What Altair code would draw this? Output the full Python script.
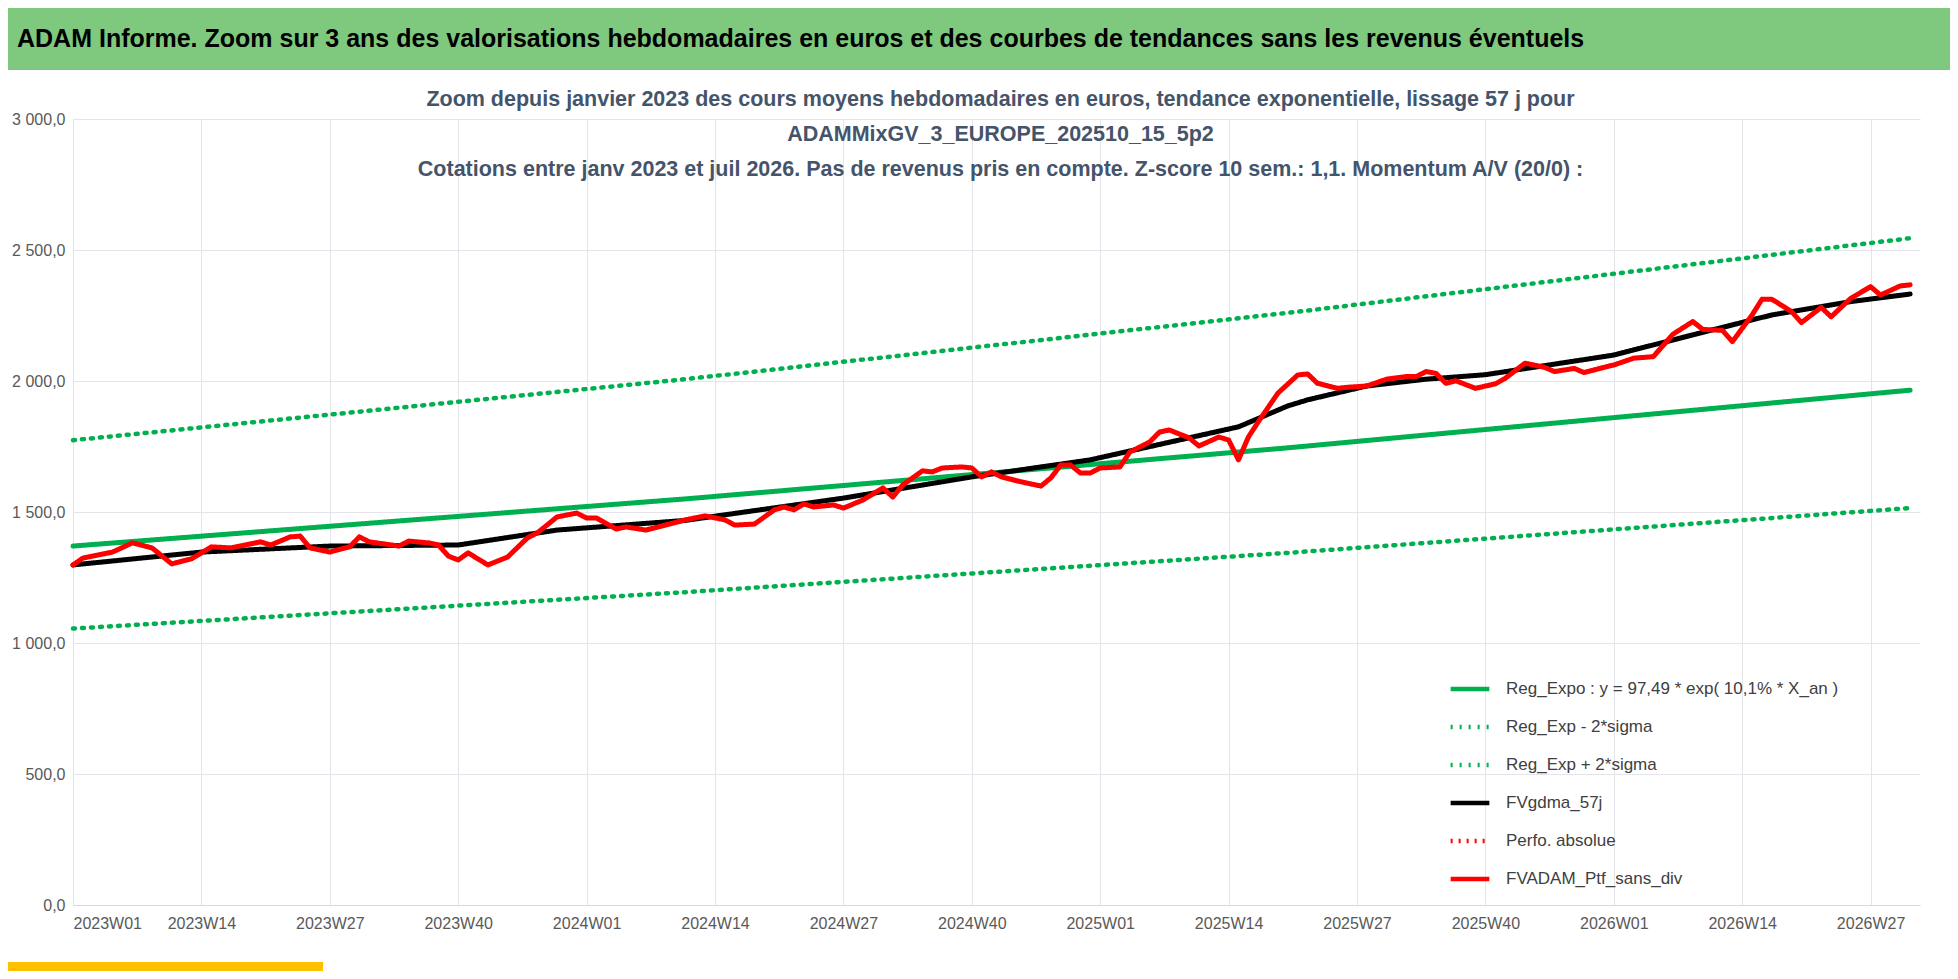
import altair as alt
import pandas as pd

# semaines (index depuis 2023W01) et valeurs
red_w = [0, 1, 4, 6, 8, 10, 12, 14, 16, 19, 20, 22, 23, 24, 26, 28, 29, 30, 33, 34, 36, 37, 38, 39, 40, 42, 44, 46, 47,
         49, 51, 52, 53, 55, 56, 58, 60, 62, 64, 66, 67, 69, 71, 72, 73, 74, 75, 77, 78, 80, 82, 83, 84, 86, 87, 88, 90,
         91, 92, 93, 94, 96, 98, 99, 100, 101, 102, 103, 104, 106, 107, 109, 110, 111, 113, 114, 116, 117, 118, 119, 120,
         122, 124, 125, 126, 128, 129, 131, 133, 135, 136, 137, 138, 139, 140, 142, 144, 145, 147, 149, 150, 152, 153,
         155, 156, 158, 160, 162, 164, 165, 167, 168, 170, 171, 172, 174, 175, 177, 178, 180, 182, 183, 185, 186]
red_v = [1298, 1324, 1347, 1382, 1363, 1302, 1321, 1367, 1363, 1386, 1374, 1405, 1408, 1363, 1347, 1367, 1405, 1386,
         1370, 1389, 1382, 1374, 1332, 1317, 1344, 1298, 1328, 1401, 1420, 1481, 1496, 1477, 1477, 1435, 1443, 1431,
         1450, 1470, 1485, 1470, 1450, 1454, 1508, 1519, 1508, 1531, 1519, 1527, 1515, 1546, 1592, 1557, 1603, 1657,
         1653, 1668, 1672, 1668, 1634, 1653, 1634, 1615, 1599, 1630, 1679, 1679, 1649, 1649, 1668, 1672, 1729, 1767,
         1805, 1813, 1783, 1752, 1786, 1775, 1699, 1786, 1844, 1954, 2023, 2027, 1991, 1972, 1976, 1981, 2007, 2017,
         2017, 2036, 2029, 1991, 2001, 1972, 1989, 2010, 2068, 2052, 2036, 2048, 2032, 2052, 2061, 2087, 2093, 2179,
         2227, 2197, 2193, 2150, 2252, 2312, 2312, 2265, 2223, 2281, 2245, 2316, 2360, 2328, 2363, 2367]

black_w = [0, 13, 26, 39, 49, 62, 78, 91, 103, 118, 123, 125, 131, 137, 143, 156, 164, 172, 180, 186]
black_v = [1298, 1347, 1370, 1374, 1431, 1468, 1553, 1634, 1699, 1825, 1905, 1928, 1981, 2007, 2024, 2099, 2176,
           2252, 2303, 2332]

trend_w = [0, 62, 123, 186]
reg_v = [1370, 1550, 1745, 1965]
upper_v = [1774, 2007, 2260, 2545]
lower_v = [1055, 1194, 1344, 1515]

tick_labels = ['2023W01', '2023W14', '2023W27', '2023W40', '2024W01', '2024W14', '2024W27', '2024W40',
               '2025W01', '2025W14', '2025W27', '2025W40', '2026W01', '2026W14', '2026W27']

series = ['Reg_Expo : y = 97,49 * exp( 10,1% *  X_an )', 'Reg_Exp - 2*sigma', 'Reg_Exp + 2*sigma',
          'FVgdma_57j', 'Perfo. absolue', 'FVADAM_Ptf_sans_div']
colors = ['#00b050', '#00b050', '#00b050', '#000000', '#ff0000', '#ff0000']
dashes = [[1, 0], [2, 7], [2, 7], [1, 0], [2, 6], [1, 0]]


def frame(w, v, name):
    return pd.DataFrame({'week': w, 'value': v, 'serie': name})


W, H = 1847, 786
FONT = 'Liberation Sans'

legend = dict(title=None, labelFont=FONT, labelFontSize=17, labelColor='#404040', symbolType='stroke',
              symbolSize=1500, symbolStrokeWidth=4.5, rowPadding=7, labelOffset=14, labelLimit=500)
color = alt.Color('serie:N', scale=alt.Scale(domain=series, range=colors),
                  legend=alt.Legend(orient='none', legendX=1375, legendY=548, **legend))
dash = alt.StrokeDash('serie:N', scale=alt.Scale(domain=series, range=dashes), legend=alt.Legend(**legend))

label_js = '[' + ','.join("'%s'" % t for t in tick_labels) + ']'
axis_style = dict(labelFont=FONT, labelFontSize=16, labelColor='#595959', gridColor='#e4e4ea', ticks=False)
x = alt.X('week:Q', scale=alt.Scale(domain=[0, 187], nice=False, zero=False), title=None,
          axis=alt.Axis(values=list(range(0, 183, 13)), labelExpr=label_js + '[round(datum.value/13)]',
                        grid=True, domain=True, domainColor='#d9d9d9', labelPadding=10, **axis_style))
y = alt.Y('value:Q', scale=alt.Scale(domain=[0, 3000], nice=False), title=None,
          axis=alt.Axis(values=list(range(0, 3001, 500)), grid=True, domain=False,
                        labelExpr="replace(replace(format(datum.value, ',.1f'), ',', ' '), '.', ',')",
                        labelPadding=8, labelBaseline='middle', **axis_style))


def line(df, width):
    return alt.Chart(df).mark_line(strokeWidth=width, strokeCap='round', strokeJoin='round').encode(
        x=x, y=y, color=color, strokeDash=dash)


trends = line(frame(trend_w, reg_v, series[0]), 5)
bands = line(pd.concat([frame(trend_w, lower_v, series[1]), frame(trend_w, upper_v, series[2])]), 4.5)
smooth = line(frame(black_w, black_v, series[3]), 5)
price = line(frame(red_w, red_v, series[5]), 5)

# série sans donnée visible : présente seulement dans la légende
ghost = alt.Chart(frame([0], [None], series[4])).mark_line().encode(x=x, y=y, color=color, strokeDash=dash)

header = alt.Chart(pd.DataFrame({'t': ['ADAM Informe. Zoom sur 3 ans des valorisations hebdomadaires en euros '
                                       'et des courbes de tendances sans les revenus éventuels']}))
header_bg = header.mark_rect(color='#7fc97f').encode(
    x=alt.value(-65), x2=alt.value(W + 30), y=alt.value(-111), y2=alt.value(-49))
header_txt = header.mark_text(align='left', baseline='middle', fontSize=25, fontWeight='bold', font=FONT,
                              color='#000000').encode(x=alt.value(-56), y=alt.value(-80), text='t:N')
corner = header.mark_rect(color='#ffc000').encode(
    x=alt.value(-65), x2=alt.value(250), y=alt.value(H + 57), y2=alt.value(H + 66))

sub_lines = ['Zoom depuis janvier 2023 des cours moyens hebdomadaires  en euros, tendance exponentielle, lissage 57 j pour',
             'ADAMMixGV_3_EUROPE_202510_15_5p2',
             'Cotations entre janv 2023 et juil 2026. Pas de revenus pris en compte. Z-score 10 sem.: 1,1. Momentum  A/V (20/0) :']
sub_y = [-19, 16, 51]
subs = [alt.Chart(pd.DataFrame({'t': [s]})).mark_text(
    fontSize=21.5, fontWeight='bold', font=FONT, color='#44546a', baseline='middle').encode(
    x=alt.value(W / 2 + 4), y=alt.value(yy), text='t:N') for s, yy in zip(sub_lines, sub_y)]

chart = alt.layer(header_bg, header_txt, corner, trends, bands, smooth, price, ghost, *subs).properties(
    width=W, height=H, background='white', padding=0).configure_view(stroke=None).configure_axis(
    minExtent=50, maxExtent=50)

chart.save('out.html', embed_options={'renderer': 'svg', 'actions': False})
